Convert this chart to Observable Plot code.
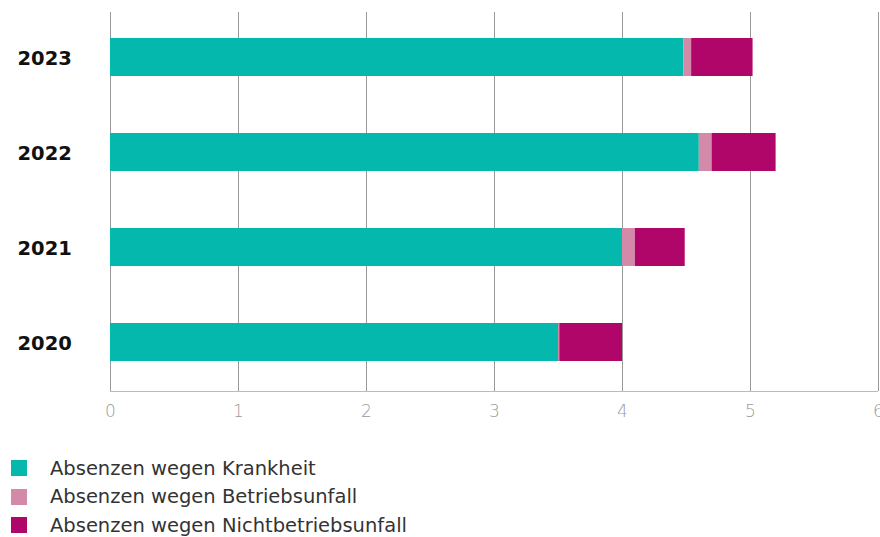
<!DOCTYPE html>
<html><head><meta charset="utf-8">
<script src="https://cdn.jsdelivr.net/npm/d3@7"></script>
<script src="https://cdn.jsdelivr.net/npm/@observablehq/plot@0.6"></script>
<style>
body{margin:0;background:#fff;font-family:"DejaVu Sans",sans-serif;}
#chart{width:880px;height:440px;}
.legend{margin-top:14px;padding-left:11px;}
.item{display:flex;align-items:center;height:28.5px;font-size:19.5px;color:#333;}
.sw{width:16px;height:16px;margin-right:23px;}
</style></head><body>
<div id="chart"></div>
<div class="legend" id="legend"></div>
<script>
const years = ["2023","2022","2021","2020"];
const series = ["Absenzen wegen Krankheit","Absenzen wegen Betriebsunfall","Absenzen wegen Nichtbetriebsunfall"];
const krankheit = [4.48, 4.60, 4.00, 3.50];
const betriebsunfall = [0.06, 0.10, 0.10, 0.01];
const nichtbetriebsunfall = [0.48, 0.50, 0.39, 0.49];
const colors = ["#04b8ad","#d38aa8","#b0066a"];
const xTicks = [0,1,2,3,4,5,6];

const data = [];
years.forEach((y,i)=>{
  data.push({year:y, s:series[0], v:krankheit[i]});
  data.push({year:y, s:series[1], v:betriebsunfall[i]});
  data.push({year:y, s:series[2], v:nichtbetriebsunfall[i]});
});

const chart = Plot.plot({
  width:880, height:440,
  marginLeft:110, marginRight:2, marginTop:12, marginBottom:49,
  style:{fontFamily:"DejaVu Sans, sans-serif"},
  x:{domain:[0,6], ticks:xTicks, label:null},
  y:{domain:years, padding:0.6, paddingOuter:0.28, align:0.47, label:null},
  color:{domain:series, range:colors},
  marks:[
    Plot.gridX(xTicks,{stroke:"#999", strokeOpacity:1, strokeWidth:1}),
    Plot.barX(data, Plot.stackX({y:"year", x:"v", fill:"s", order:series})),
    Plot.axisX({ticks:xTicks, tickSize:0, tickPadding:13, fontSize:17, fontWeight:300, fill:"#9a9a9a", label:null, tickFormat:d=>String(d), style:{fontFamily:"Lato, sans-serif"}}),
    Plot.axisY({tickSize:0, tickPadding:93, textAnchor:"start", fontSize:19.5, fontWeight:"bold", fill:"#111", dy:1, label:null})
  ]
});
document.getElementById("chart").appendChild(chart);
const svg = d3.select(chart);
svg.append("line").attr("x1",110).attr("x2",878).attr("y1",391.5).attr("y2",391.5).attr("stroke","#bbb");

const lg = document.getElementById("legend");
series.forEach((s,i)=>{
  const d=document.createElement("div");d.className="item";
  d.innerHTML=`<span class="sw" style="background:${colors[i]}"></span><span>${s}</span>`;
  lg.appendChild(d);
});
</script></body></html>
